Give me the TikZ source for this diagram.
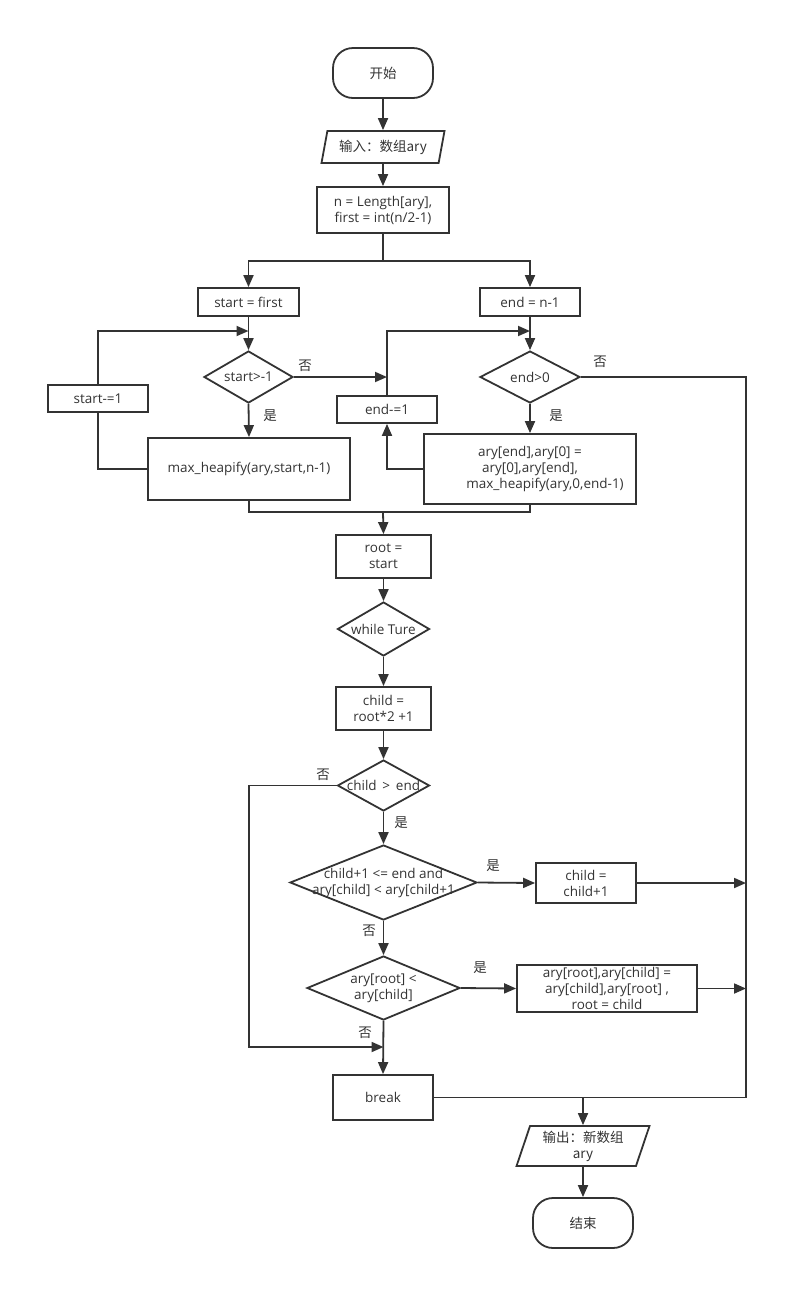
\documentclass[tikz,border=0pt]{standalone}
\usepackage{fontspec}
\setmainfont{Open Sans}
\newfontfamily\cjk{Noto Sans CJK SC}
\usetikzlibrary{positioning,shapes.geometric,arrows.meta}
\definecolor{linegray}{HTML}{333333}

\begin{document}
\begin{tikzpicture}[x=1pt,y=-1pt,color=linegray,line width=1.8pt,
		>={Triangle[length=12pt,width=10pt]},
		font=\fontsize{13.5}{16}\selectfont,
		every node/.style={align=center},
		terminal/.style={draw,rectangle,rounded corners=20pt,minimum width=100,minimum height=50,font=\cjk\fontsize{13.5}{16}\selectfont},
		io/.style={draw,trapezium,trapezium stretches=true,inner sep=1pt,font=\cjk\fontsize{13.5}{16}\selectfont},
		process/.style={draw,rectangle,inner sep=1pt},
		decision/.style={draw,diamond,inner sep=0pt},
		answer/.style={font=\cjk\fontsize{13.5}{16}\selectfont,inner sep=0pt}]
			\pgfmathsetmacro{\RightX}{746}
			\pgfmathsetmacro{\LeftX}{249}
			\useasboundingbox (0,0) rectangle (807,1310);
			
			% top part
			\node[terminal] (Start) at (383,73) {开始};
			\node[io,trapezium left angle=74,trapezium right angle=106,minimum width=124,minimum height=32] (Input) at (383,147) {输入：数组ary};
			\node[process,minimum width=132,minimum height=46] (Init) at (383,210) {n = Length[ary],\\first = int(n/2-1)};
			\coordinate (SplitPos) at (383,261);
			
			% build the heap
			\node[process,minimum width=101,minimum height=28] (StartFirst) at (248.5,302) {start = first};
			\node[decision,minimum width=89,minimum height=52] (StartCheck) at (248.5,377) {};
			\node (StartCheckText) at (StartCheck) {start>-1};
			\node[process,minimum width=202,minimum height=62] (Heapify) at (249,469) {max\_heapify(ary,start,n-1)};
			\node[process,minimum width=100,minimum height=27] (StartDec) at (98,398.5) {start-=1};
			\coordinate (LoopA) at (248.5,331);
			
			% sort part
			\node[process,minimum width=100,minimum height=28] (EndFirst) at (530,302) {end = n-1};
			\node[decision,minimum width=100,minimum height=52] (EndCheck) at (530,377) {};
			\node (EndCheckText) at (EndCheck) {end>0};
			\node[process,minimum width=212,minimum height=70] (EndSwap) at (530,469) {ary[end],ary[0] =\\ary[0],ary[end],\\\hspace*{30pt}max\_heapify(ary,0,end-1)};
			\node[process,minimum width=100,minimum height=27] (EndDec) at (387,409.5) {end-=1};
			\coordinate (LoopB) at (530,331);
			\coordinate (MergePos) at (383,512);
			
			% max_heapify body
			\node[process,minimum width=95,minimum height=43] (Root) at (383.5,556.5) {root =\\start};
			\node[decision,minimum width=92,minimum height=54] (WhileTrue) at (383.5,629) {};
			\node (WhileTrueText) at (WhileTrue) {while Ture};
			\node[process,minimum width=95,minimum height=43] (Child) at (383.5,708.5) {child =\\root*2 +1};
			\node[decision,minimum width=92,minimum height=51] (ChildCheck) at (383.5,785.5) {};
			\node (ChildCheckText) at (ChildCheck) {child \,>\, end};
			\node[decision,minimum width=187,minimum height=75] (RightCheck) at (383.5,882.5) {};
			\node (RightCheckText) at (RightCheck) {child+1 <= end and\\ary[child] < ary[child+1};
			\node[process,minimum width=100,minimum height=40] (ChildInc) at (586,883) {child =\\child+1};
			\node[decision,minimum width=153,minimum height=64] (RootCheck) at (383.5,988) {};
			\node (RootCheckText) at (RootCheck) {ary[root] <\\ary[child]};
			\node[process,inner ysep=0pt,minimum width=180,minimum height=47] (SwapChild) at (607,988.5) {ary[root],ary[child] =\\ary[child],ary[root] ,\\root = child};
			\node[process,minimum width=100,minimum height=45] (Break) at (383,1097.5) {break};
			\coordinate (LeftTurn) at (\LeftX,785.5);
			\coordinate (NoJoin) at (383.5,1047);
			\coordinate (ExitCorner) at (\RightX,1097.5);
			\coordinate (ExitJoin) at (583,1097.5);
			
			% end
			\node[io,trapezium left angle=72,trapezium right angle=108,minimum width=133,minimum height=40] (Output) at (583,1146) {输出：新数组\\ary};
			\node[terminal] (Finish) at (583,1223) {结束};
			
			% answers
			\node[answer] (NoA) at (305,366) {否};
			\node[answer] (YesA) at (270,416) {是};
			\node[answer] (NoB) at (600,362) {否};
			\node[answer] (YesB) at (556,416) {是};
			\node[answer] (NoC) at (323,775) {否};
			\node[answer] (YesC) at (401,823) {是};
			\node[answer] (YesD) at (493,866) {是};
			\node[answer] (NoD) at (369,931) {否};
			\node[answer] (YesE) at (480,968) {是};
			\node[answer] (NoE) at (365,1033) {否};
			
			% connectors
			\draw[->] (Start.south) -- (Input.north);
			\draw[->] (Input.south) -- (Init.north);
			\draw (Init.south) -- (SplitPos);
			\draw[->] (SplitPos) -| (StartFirst.north);
			\draw[->] (SplitPos) -| (EndFirst.north);
			
			\draw[->] (StartFirst.south) -- (StartCheck.north);
			\draw[->] (StartCheck.east) -- (StartCheck.east -| EndDec.north);
			\draw[->] (StartCheck.south) -- (Heapify.north);
			\draw (Heapify.west) -| (StartDec.south);
			\draw[->] (StartDec.north) |- (LoopA);
			
			\draw[->] (EndFirst.south) -- (EndCheck.north);
			\draw[->] (EndCheck.south) -- (EndSwap.north);
			\draw[->] (EndSwap.west) -| (EndDec.south);
			\draw[->] (EndDec.north) |- (LoopB);
			\draw (EndCheck.east) -| (ExitCorner) -- (ExitJoin);
			
			\draw (Heapify.south) |- (MergePos);
			\draw (EndSwap.south) |- (MergePos);
			\draw[->] (MergePos) -- (Root.north);
			\draw[->] (Root.south) -- (WhileTrue.north);
			\draw[->] (WhileTrue.south) -- (Child.north);
			\draw[->] (Child.south) -- (ChildCheck.north);
			\draw[->] (ChildCheck.west) -- (LeftTurn) |- (NoJoin);
			\draw[->] (ChildCheck.south) -- (RightCheck.north);
			\draw[->] (RightCheck.east) -- (ChildInc.west);
			\draw[->] (ChildInc.east) -- (ChildInc.east -| ExitCorner);
			\draw[->] (RightCheck.south) -- (RootCheck.north);
			\draw[->] (RootCheck.east) -- (SwapChild.west);
			\draw[->] (SwapChild.east) -- (SwapChild.east -| ExitCorner);
			\draw[->] (RootCheck.south) -- (Break.north);
			\draw (Break.east) -- (ExitJoin);
			\draw[->] (ExitJoin) -- (Output.north);
			\draw[->] (Output.south) -- (Finish.north);
		\end{tikzpicture}
\end{document}
